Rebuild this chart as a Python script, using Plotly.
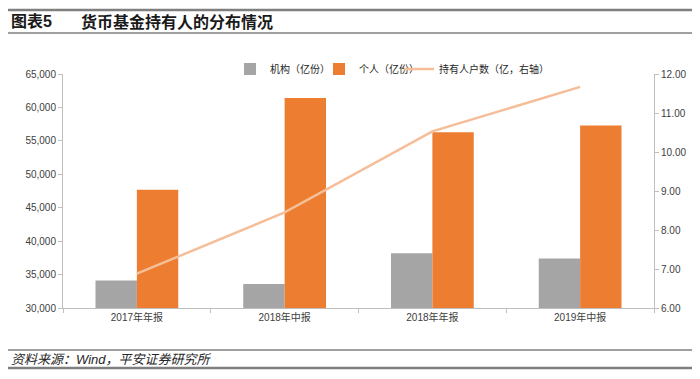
import plotly.graph_objects as go

categories = ["2017年年报", "2018年中报", "2018年年报", "2019年中报"]
institution = [34100, 33600, 38200, 37400]
individual = [47700, 61400, 56300, 57300]
holders = [6.88, 8.45, 10.53, 11.67]

FONT = "Liberation Sans, Noto Sans CJK SC, sans-serif"
OFF = 8  # page body margin
W, H = 700 - OFF, 379 - OFF
# plot area in page coordinates
PL, PR, PT, PB = 63, 654, 74, 308
L, R, T, B = PL - OFF, (700 - PR), PT - OFF, (379 - PB)
pw, ph = W - L - R, H - T - B

def px(x):
    return (x - OFF - L) / pw

def py(y):
    return (H - B - (y - OFF)) / ph

fig = go.Figure()
fig.add_trace(go.Bar(x=categories, y=institution, name="机构（亿份）", legend="legend",
                     marker=dict(color="#A5A5A5", line=dict(width=0))))
fig.add_trace(go.Bar(x=categories, y=individual, name="个人（亿份）", legend="legend2",
                     marker=dict(color="#ED7D31", line=dict(width=0))))
fig.add_trace(go.Scatter(x=categories, y=holders, name="持有人户数（亿，右轴）",
                         legend="legend3", yaxis="y2", mode="lines",
                         line=dict(color="#F6BE98", width=2.5)))

axis_common = dict(showline=True, linecolor="#BFBFBF", linewidth=1,
                   ticks="outside", tickcolor="#BFBFBF", ticklen=4,
                   showgrid=False, zeroline=False,
                   tickfont=dict(family=FONT, size=10, color="#404040"))

def leg(xpage):
    return dict(orientation="h", x=px(xpage), y=py(69), xanchor="left", yanchor="middle",
                font=dict(family=FONT, size=10, color="#262626"),
                bgcolor="rgba(0,0,0,0)", itemwidth=30)

fig.update_layout(
    width=W, height=H,
    margin=dict(l=L, r=R, t=T, b=B),
    paper_bgcolor="white", plot_bgcolor="white",
    barmode="group", bargap=0.44, bargroupgap=0,
    showlegend=True,
    legend=leg(230), legend2=leg(319), legend3=leg(399),
    xaxis=dict(**axis_common, tickson="boundaries"),
    yaxis=dict(**axis_common, range=[30000, 65000], dtick=5000, tickformat=",d"),
    yaxis2=dict(**axis_common, overlaying="y", side="right", range=[6, 12],
                dtick=1, tickformat=".2f"),
    font=dict(family=FONT),
)

line_x0, line_x1 = px(5), px(697)
shapes = [
    dict(type="line", xref="paper", yref="paper", x0=line_x0, x1=line_x1,
         y0=py(10), y1=py(10), line=dict(color="#7F7F7F", width=2.5)),
    dict(type="line", xref="paper", yref="paper", x0=line_x0, x1=line_x1,
         y0=py(33), y1=py(33), line=dict(color="#404040", width=1)),
    dict(type="line", xref="paper", yref="paper", x0=line_x0, x1=line_x1,
         y0=py(350), y1=py(350), line=dict(color="#404040", width=1)),
    dict(type="line", xref="paper", yref="paper", x0=line_x0, x1=line_x1,
         y0=py(368), y1=py(368), line=dict(color="#7F7F7F", width=2.5)),
]
fig.update_layout(shapes=shapes)

fig.add_annotation(text="<b>图表5</b>", xref="paper", yref="paper",
                   x=px(9), y=py(22), xanchor="left", yanchor="middle",
                   showarrow=False, font=dict(family=FONT, size=16, color="#1a1a1a"))
fig.add_annotation(text="<b>货币基金持有人的分布情况</b>", xref="paper", yref="paper",
                   x=px(79), y=py(22), xanchor="left", yanchor="middle",
                   showarrow=False, font=dict(family=FONT, size=16, color="#1a1a1a"))
fig.add_annotation(text="<i>资料来源：Wind，平安证券研究所</i>", xref="paper", yref="paper",
                   x=px(9), y=py(359), xanchor="left", yanchor="middle",
                   showarrow=False, font=dict(family=FONT, size=13, color="#262626"))

fig.write_html("out.html")
